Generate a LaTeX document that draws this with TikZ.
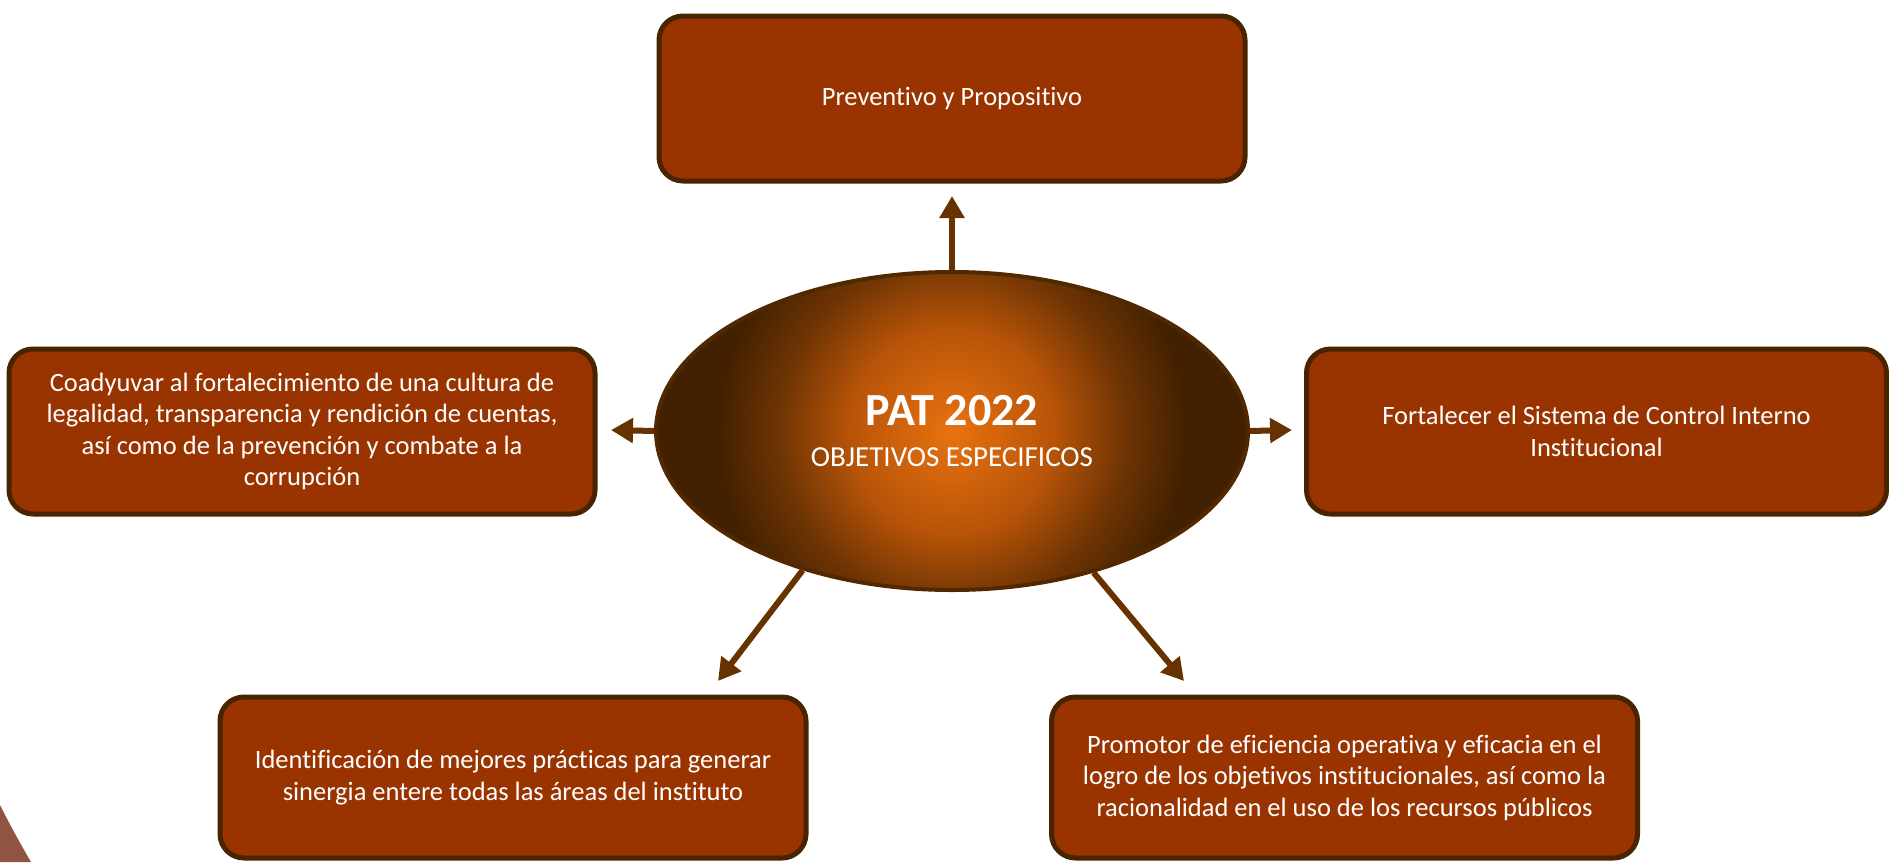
\documentclass[tikz,border=0pt]{standalone}
\usepackage{fontspec}
\setmainfont{Carlito}[Ligatures={NoCommon}]
\usetikzlibrary{shapes.geometric,arrows.meta}
\definecolor{boxfill}{HTML}{993300}
\definecolor{boxline}{HTML}{482400}
\definecolor{arrowc}{HTML}{663300}
\definecolor{ellin}{HTML}{E87210}
\definecolor{ellmid}{HTML}{B85408}
\definecolor{ellmid2}{HTML}{6E3404}
\definecolor{ellout}{HTML}{432100}
\definecolor{ellline}{HTML}{512800}
\definecolor{wedge}{HTML}{8F5542}
\pgfdeclareradialshading{ellshade}{\pgfpoint{0bp}{0bp}}{color(0bp)=(ellin); color(8.5bp)=(ellmid); color(14.5bp)=(ellmid2); color(19.5bp)=(ellout); color(50bp)=(ellout)}
\tikzset{
  boxnode/.style={draw=boxline, line width=5pt, fill=boxfill, rounded corners=24pt,
    minimum width=586pt, minimum height=165pt, inner sep=0pt,
    text=white, align=center, font=\fontsize{26.5}{31.5}\selectfont},
  conn/.style={draw=arrowc, line width=6pt, -{Triangle[length=22pt,width=24pt]}},
}
\begin{document}
\begin{tikzpicture}[x=1pt,y=-1pt]
\useasboundingbox (0,0) rectangle (1889,862);
\fill[wedge] (0,805) .. controls (10,825) and (20,843) .. (31,862) -- (0,862) -- cycle;

\node[boxnode] (top) at (952,98.5) {Preventivo y Propositivo};
\node[boxnode] (left) at (302,431.5) {Coadyuvar al fortalecimiento de una cultura de\\legalidad, transparencia y rendición de cuentas,\\así como de la prevención y combate a la\\corrupción};
\node[boxnode, minimum width=580pt] (right) at (1596.5,431.5) {Fortalecer el Sistema de Control Interno\\Institucional};
\node[boxnode, minimum height=161pt] (bl) at (513,777.5) {Identificación de mejores prácticas para generar\\sinergia entere todas las áreas del instituto};
\node[boxnode, minimum height=161pt] (br) at (1344.5,777.5) {Promotor de eficiencia operativa y eficacia en el\\logro de los objetivos institucionales, así como la\\racionalidad en el uso de los recursos públicos};

\node[ellipse, draw=ellline, line width=4pt, fill=ellout, minimum width=592pt, minimum height=318pt, inner sep=0pt, text=white, align=center, font=\fontsize{29}{41}\selectfont,
  path picture={\shade[shading=ellshade] (path picture bounding box.center) circle (300pt);}] (ell) at (952,431)
  {{\fontsize{46}{50}\selectfont\bfseries PAT 2022}\\OBJETIVOS ESPECIFICOS};

\coordinate (ttop) at (952,196);
\coordinate (tleft) at (611,430);
\coordinate (tright) at (1292,430);
\coordinate (tbl) at (718,681);
\coordinate (tbr) at (1184,681);

\draw[conn] (ell.north) -- (ttop);
\draw[conn] (ell.west) -- (tleft);
\draw[conn] (ell.east) -- (tright);
\draw[conn] (ell.223.6) -- (tbl);
\draw[conn] (ell.315.6) -- (tbr);
\end{tikzpicture}
\end{document}
